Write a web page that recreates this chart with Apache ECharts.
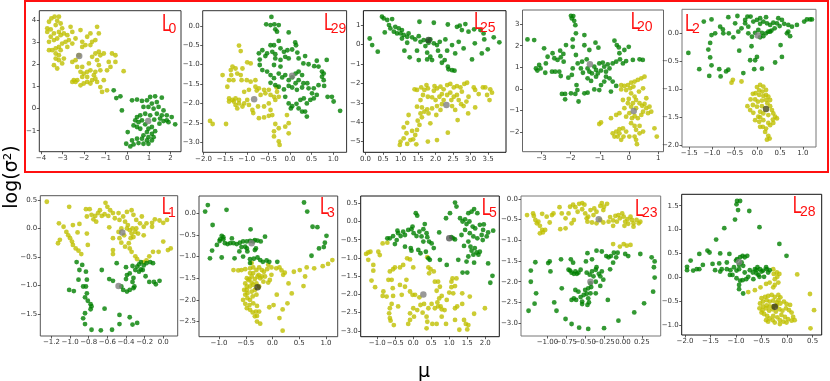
<!DOCTYPE html>
<html>
<head>
<meta charset="utf-8">
<script src="https://cdn.jsdelivr.net/npm/echarts@6/dist/echarts.min.js"></script>
<style>
  html, body { margin: 0; padding: 0; background: #fff; }
  #chart { width: 830px; height: 381px; }
</style>
</head>
<body>
<div id="chart"></div>
<script>
// ---- data (mu, log sigma^2) ----
var yellow_L0 = [[-3.52,4.09],[-3.37,4.17],[-3.17,4.17],[-3.25,3.98],[-3.63,3.94],[-3.71,3.64],[-3.71,3.48],[-3.55,3.59],[-3.32,3.79],[-3.09,3.86],[-3.02,3.64],[-3.17,3.48],[-3.40,3.41],[-3.55,3.26],[-3.63,3.03],[-3.40,3.11],[-3.25,3.18],[-3.09,3.33],[-2.94,3.41],[-2.78,3.33],[-2.63,3.71],[-2.55,3.48],[-2.71,3.11],[-2.86,3.03],[-3.02,2.95],[-3.17,2.80],[-3.32,2.73],[-3.48,2.65],[-3.63,2.65],[-3.32,2.50],[-3.17,2.42],[-3.32,2.27],[-3.17,2.20],[-3.40,1.97],[-3.25,1.82],[-3.02,2.05],[-2.94,2.27],[-3.09,2.65],[-2.78,2.80],[-2.55,2.95],[-2.40,3.18],[-2.17,3.56],[-2.09,3.03],[-1.86,3.26],[-1.71,3.41],[-1.63,3.03],[-1.40,3.71],[-1.32,3.41],[-1.48,3.11],[-1.71,2.88],[-1.94,2.88],[-2.09,2.80],[-2.25,2.42],[-2.40,2.20],[-2.55,2.12],[-2.32,1.89],[-2.09,1.89],[-2.17,1.67],[-2.02,1.59],[-1.86,1.67],[-1.71,1.74],[-1.78,2.05],[-1.63,2.35],[-1.48,2.50],[-1.32,2.58],[-1.25,2.42],[-1.09,2.50],[-1.40,2.20],[-1.32,1.97],[-1.25,1.74],[-1.48,1.67],[-1.55,1.52],[-1.63,1.29],[-1.86,1.21],[-2.02,1.14],[-2.17,1.06],[-2.32,1.29],[-2.48,1.29],[-2.55,1.21],[-2.40,1.21],[-2.09,1.44],[-1.86,1.44],[-1.40,1.21],[-1.25,0.98],[-1.17,0.76],[-0.94,0.83],[-1.09,1.29],[-0.94,1.74],[-0.78,1.89],[-0.86,2.12],[-0.71,2.50],[-0.55,2.42],[-0.55,2.12],[-0.17,1.70],[-1.48,1.36],[-1.71,1.14]];
var green_L0 = [[-0.63,0.83],[-0.51,0.48],[-0.32,0.56],[-0.25,-0.08],[0.22,0.38],[0.45,0.41],[0.68,0.35],[0.91,0.38],[1.06,0.53],[1.29,0.56],[1.60,0.50],[1.37,0.30],[1.14,0.23],[0.98,0.08],[1.22,0.00],[1.45,0.08],[1.68,-0.08],[1.37,-0.23],[1.60,-0.30],[1.83,-0.30],[2.06,-0.38],[2.22,-0.71],[1.91,-0.61],[1.68,-0.56],[1.49,-0.68],[1.25,-0.50],[1.06,-0.30],[0.83,-0.23],[0.60,-0.30],[0.45,-0.38],[0.37,-0.53],[0.52,-0.61],[0.68,-0.53],[0.29,-0.76],[0.45,-0.83],[0.60,-0.91],[0.83,-0.71],[0.98,-0.91],[1.14,-0.83],[1.29,-1.02],[1.14,-1.14],[0.98,-1.29],[0.75,-1.21],[0.68,-1.36],[0.91,-1.44],[1.14,-1.44],[1.22,-1.29],[0.98,-1.59],[0.75,-1.59],[0.52,-1.56],[0.29,-1.62],[0.14,-1.71],[-0.05,-1.59],[0.02,-1.06],[0.22,-1.44],[0.45,-1.36],[0.91,-1.06],[1.52,-0.45],[1.83,-0.53],[0.75,0.08]];

var green_L29 = [[-0.43,0.23],[-0.55,0.04],[-0.45,0.02],[-0.36,0.04],[-0.26,0.02],[-0.34,-0.09],[-0.30,-0.15],[-0.03,-0.17],[-0.45,-0.50],[-0.37,-0.50],[-0.26,-0.39],[0.12,-0.43],[0.14,-0.50],[-0.72,-0.71],[-0.64,-0.63],[-0.53,-0.71],[-0.41,-0.67],[-0.34,-0.73],[-0.22,-0.58],[-0.14,-0.67],[-0.06,-0.63],[0.05,-0.61],[0.17,-0.69],[-0.70,-0.87],[-0.57,-0.78],[-0.34,-0.84],[-0.22,-0.88],[-0.11,-0.80],[-0.03,-0.84],[0.20,-0.84],[0.35,-0.78],[0.31,-0.97],[0.43,-0.99],[0.56,-1.04],[0.62,-0.90],[0.85,-0.88],[-0.70,-1.01],[-0.64,-1.14],[-0.53,-1.18],[-0.45,-1.27],[-0.37,-1.35],[-0.26,-1.23],[-0.18,-1.33],[-0.11,-1.27],[-0.03,-1.40],[0.05,-1.33],[0.13,-1.23],[0.20,-1.18],[0.28,-1.27],[0.20,-1.40],[0.13,-1.48],[0.05,-1.59],[-0.03,-1.55],[0.16,-1.65],[0.28,-1.59],[-0.26,-1.57],[-0.34,-1.53],[-0.45,-1.47],[-0.14,-1.64],[-0.11,-1.83],[-0.03,-2.00],[0.05,-2.07],[0.15,-2.01],[0.24,-1.91],[0.32,-1.87],[0.39,-2.00],[0.47,-1.91],[0.55,-1.87],[0.62,-1.78],[0.51,-1.74],[0.43,-1.61],[0.55,-1.61],[0.66,-1.53],[0.74,-1.31],[0.78,-1.23],[0.78,-1.40],[0.79,-1.55],[0.87,-1.83],[0.97,-1.83],[1.01,-1.95],[1.16,-2.19],[0.35,-2.21],[0.39,-2.34],[0.20,-2.13],[0.28,-2.21],[0.02,-2.13],[0.66,-1.05],[0.74,-1.18],[-0.37,-1.01],[-0.22,-1.05],[0.31,-1.48],[0.40,-1.48]];
var yellow_L29 = [[-1.18,-0.51],[-1.14,-0.65],[-0.99,-0.94],[-0.91,-0.97],[-1.56,-1.27],[-1.37,-1.14],[-1.33,-1.05],[-1.26,-1.10],[-1.22,-1.23],[-1.14,-1.27],[-1.10,-1.10],[-1.36,-1.27],[-1.41,-1.40],[-1.31,-1.40],[-1.45,-1.57],[-1.00,-1.40],[-0.91,-1.44],[-0.80,-1.57],[-0.72,-1.61],[-0.60,-1.65],[-0.49,-1.65],[-0.80,-1.40],[-0.77,-1.67],[-0.68,-1.78],[-0.57,-1.74],[-0.45,-1.78],[-0.37,-1.83],[-0.30,-1.70],[-0.26,-1.83],[-0.34,-1.91],[-1.41,-1.87],[-1.33,-1.91],[-1.30,-1.95],[-1.41,-1.95],[-1.26,-2.04],[-1.18,-2.00],[-1.10,-2.08],[-1.22,-2.13],[-1.06,-2.00],[-0.99,-1.91],[-0.95,-2.04],[-0.87,-2.17],[-0.85,-2.25],[-0.74,-2.08],[-0.60,-2.08],[-0.49,-2.00],[-0.45,-2.17],[-0.72,-2.38],[-0.60,-2.36],[-0.49,-2.32],[-0.41,-2.30],[-0.34,-2.53],[-0.26,-2.64],[-0.37,-2.72],[-0.37,-2.85],[-0.26,-2.98],[-0.24,-3.07],[-0.07,-2.30],[-0.03,-2.51],[-0.03,-2.77],[-0.11,-2.60],[-1.85,-2.45],[-1.79,-2.53],[-1.48,-2.53],[-1.06,-1.70],[-0.95,-1.65],[-1.26,-1.87],[-1.18,-1.91],[-0.31,-1.59],[-1.12,-1.40]];

var green_L25 = [[0.47,1.43],[0.52,1.34],[0.62,1.26],[0.76,1.31],[0.67,1.00],[0.55,0.62],[0.71,0.83],[0.85,0.91],[0.95,0.83],[0.90,0.57],[1.00,0.57],[1.04,0.74],[1.09,0.49],[1.19,0.40],[1.23,0.57],[1.33,0.37],[1.42,0.26],[1.52,0.43],[1.57,0.14],[1.66,0.23],[1.77,0.19],[1.85,0.26],[1.80,0.09],[1.95,0.06],[1.54,1.17],[1.95,1.12],[2.35,1.03],[2.61,0.91],[2.69,0.97],[2.85,1.05],[2.75,0.74],[2.94,0.66],[3.10,0.78],[3.28,0.74],[3.37,0.57],[3.66,0.37],[3.82,0.11],[3.39,0.26],[3.12,0.06],[0.12,0.31],[0.19,-0.03],[0.35,-0.37],[1.11,-0.32],[1.26,-0.66],[1.47,-0.32],[1.52,-0.80],[1.76,-0.42],[1.76,-0.77],[1.85,-0.63],[1.90,-0.80],[2.14,-0.60],[2.18,-0.94],[2.26,-0.80],[2.35,-1.14],[2.37,-1.28],[2.47,-1.32],[2.54,-1.35],[2.12,0.14],[2.28,0.26],[2.33,-0.32],[2.47,-0.03],[2.56,-0.46],[2.66,0.14],[2.80,-0.20],[3.04,-0.77],[3.32,-0.46],[3.49,-0.25],[2.07,-0.32],[2.04,-0.03],[1.71,-0.08],[1.19,0.09],[0.81,0.66],[1.04,0.31]];
var yellow_L25 = [[1.40,-2.31],[1.47,-2.34],[1.59,-2.21],[1.68,-2.34],[1.78,-2.26],[1.95,-2.38],[2.04,-2.26],[2.14,-2.17],[2.23,-2.31],[2.33,-2.09],[2.42,-2.03],[2.52,-2.21],[2.61,-2.14],[2.71,-2.21],[2.82,-2.03],[2.90,-1.97],[2.75,-2.43],[2.61,-2.60],[2.52,-2.69],[2.42,-2.48],[2.33,-2.60],[2.18,-2.55],[2.11,-2.69],[2.00,-2.86],[1.90,-2.72],[1.78,-2.69],[1.64,-2.60],[1.57,-2.86],[2.66,-2.86],[2.73,-3.07],[2.80,-3.17],[2.88,-2.94],[2.94,-2.69],[3.09,-2.21],[3.13,-2.34],[3.35,-2.21],[3.42,-2.21],[3.56,-2.31],[3.61,-2.48],[3.47,-2.60],[3.54,-2.86],[3.23,-2.55],[3.13,-3.24],[2.93,-3.55],[2.63,-3.89],[2.35,-4.54],[1.47,-3.20],[1.61,-3.24],[1.76,-3.34],[1.90,-3.29],[2.04,-3.17],[2.18,-3.07],[2.47,-3.17],[2.56,-3.37],[1.57,-3.55],[1.68,-3.46],[1.80,-3.55],[1.61,-3.75],[1.49,-3.92],[1.54,-4.14],[1.47,-4.40],[1.42,-4.66],[1.36,-4.88],[1.45,-5.14],[1.28,-4.92],[1.19,-5.12],[1.09,-4.83],[1.00,-5.00],[0.98,-5.17],[1.17,-4.57],[1.23,-3.63],[1.19,-4.03],[1.09,-4.27],[1.33,-4.45],[1.78,-5.00],[2.04,-4.92],[1.85,-4.06],[2.02,-3.63],[2.14,-3.37],[2.23,-2.86],[2.45,-2.86],[1.97,-2.14],[1.74,-2.09]];

var green_L20 = [[-1.99,3.38],[-1.91,3.37],[-1.96,3.26],[-1.88,3.15],[-1.84,2.95],[-1.82,2.57],[-1.53,2.49],[-1.93,2.29],[-3.48,2.29],[-3.25,2.26],[-2.91,1.88],[-2.16,2.03],[-2.36,1.77],[-2.62,1.65],[-2.79,1.49],[-2.56,1.42],[-2.45,1.34],[-2.34,1.46],[-2.24,1.26],[-2.25,1.62],[-3.08,1.11],[-3.14,0.85],[-3.03,0.95],[-2.87,0.75],[-2.64,0.80],[-2.53,0.80],[-2.39,0.80],[-2.34,0.60],[-2.08,0.52],[-1.93,0.95],[-1.96,0.65],[-1.82,1.57],[-1.76,1.18],[-1.65,0.95],[-1.61,1.26],[-1.45,1.37],[-1.58,0.75],[-1.42,0.95],[-1.36,0.80],[-1.27,0.72],[-1.19,1.03],[-1.13,0.88],[-1.13,0.57],[-1.07,0.72],[-1.02,1.18],[-0.90,1.22],[-0.85,1.03],[-0.79,0.80],[-0.96,0.85],[-0.73,1.14],[-0.67,0.95],[-0.56,1.18],[-0.44,1.26],[-0.31,1.37],[-0.21,1.18],[-0.10,1.29],[0.13,1.34],[0.36,1.37],[0.47,1.34],[-0.33,1.65],[-0.16,1.80],[-0.01,1.95],[-0.50,2.23],[-0.42,2.03],[-0.35,1.92],[-1.15,2.14],[-1.05,1.91],[-1.53,2.02],[-1.36,1.80],[-1.93,1.95],[-1.42,0.49],[-1.30,0.37],[-1.19,-0.02],[-1.02,-0.05],[-0.96,0.18],[-0.85,0.34],[-1.80,0.18],[-1.77,-0.05],[-1.99,-0.20],[-1.84,-0.23],[-2.30,-0.23],[-2.19,-0.23],[-2.19,-0.48],[-1.73,-0.58],[-1.53,-0.20],[-1.42,-0.17],[-0.62,-0.12],[-0.44,0.14],[-0.56,0.34],[-0.67,0.49],[-0.79,0.57],[-3.19,0.95],[-2.85,1.18]];
var yellow_L20 = [[-0.27,0.18],[-0.16,0.14],[-0.04,0.18],[0.07,0.29],[0.19,0.34],[0.30,0.42],[0.42,0.49],[0.53,0.57],[-0.27,-0.02],[-0.10,-0.05],[0.04,0.03],[0.15,0.11],[0.07,-0.20],[0.19,-0.35],[0.24,-0.51],[0.13,-0.66],[0.07,-0.82],[0.24,-0.89],[0.36,-0.66],[0.45,-0.78],[0.53,-0.69],[0.59,-0.89],[0.70,-0.82],[0.76,-1.05],[0.65,-1.12],[0.48,-1.05],[0.42,-1.20],[0.30,-1.35],[0.19,-1.25],[0.10,-1.35],[0.01,-1.12],[-0.10,-1.28],[-0.16,-0.89],[-0.04,-0.66],[-0.21,-0.51],[-0.33,-1.12],[-0.44,-1.20],[-0.62,-1.35],[0.07,-1.58],[0.19,-1.71],[0.24,-1.89],[0.36,-1.71],[0.48,-1.97],[0.36,-2.05],[0.19,-2.20],[0.24,-2.35],[0.27,-2.55],[0.01,-2.20],[-0.10,-1.97],[-0.21,-1.82],[-0.33,-1.86],[-0.44,-1.97],[-0.56,-2.05],[-0.50,-2.20],[-0.33,-2.05],[-0.19,-2.20],[-0.27,-2.35],[-0.39,-2.20],[0.87,-1.82],[0.95,-2.20],[-1.02,-1.62],[-0.96,-1.55],[0.48,0.03],[0.34,-0.12],[-0.01,-0.46],[0.59,-0.43]];

var green_L2 = [[-1.52,-0.35],[-1.28,-0.64],[-1.18,0.21],[-1.01,0.25],[-1.06,-0.76],[-1.08,-0.29],[-1.04,-0.43],[-1.01,-0.57],[-1.04,-0.17],[-1.01,-0.03],[-0.93,0.00],[-0.82,0.12],[-0.76,0.07],[-0.75,0.00],[-0.81,-0.77],[-0.84,-0.64],[-0.69,-0.68],[-0.64,-0.65],[-0.64,0.29],[-0.44,0.31],[-0.63,0.00],[-0.53,-0.07],[-0.42,0.03],[-0.35,0.09],[-0.27,0.24],[-0.27,0.18],[-0.22,0.30],[-0.15,0.30],[-0.20,0.12],[-0.09,0.21],[-0.01,0.24],[0.06,0.17],[0.13,0.21],[0.21,0.18],[0.28,0.15],[0.35,0.19],[0.43,0.18],[0.46,0.27],[0.54,0.24],[0.59,0.17],[0.49,0.13],[0.38,0.09],[0.31,0.05],[0.24,0.03],[0.19,0.00],[0.10,0.01],[0.02,0.06],[-0.05,0.01],[-0.12,-0.06],[0.06,-0.07],[0.13,-0.05],[0.28,0.03],[0.68,0.15],[0.76,0.12],[0.87,0.15],[0.68,0.03],[0.72,-0.05],[0.65,0.00],[1.03,0.21],[1.09,0.25],[1.16,0.25],[1.20,0.25],[0.51,-0.21],[0.54,-0.42],[0.39,-0.52],[-0.13,-0.23],[-0.16,-0.48],[-0.05,-0.48],[-0.01,-0.42],[-0.07,-0.64],[0.10,-0.63],[-0.31,-0.71],[-0.40,-0.31],[-0.49,0.18],[0.06,0.27],[0.19,0.29],[-0.20,0.00]];
var yellow_L2 = [[-0.54,-0.83],[-0.57,-0.88],[-0.35,-0.86],[-0.01,-0.96],[0.06,-0.92],[0.13,-0.95],[0.04,-1.02],[0.11,-1.04],[0.19,-1.01],[0.04,-1.10],[0.13,-1.12],[0.19,-1.10],[-0.05,-1.18],[-0.15,-1.18],[0.01,-1.22],[0.10,-1.20],[0.19,-1.19],[-0.22,-1.30],[-0.10,-1.28],[-0.01,-1.31],[0.10,-1.30],[0.22,-1.25],[0.28,-1.30],[0.32,-1.37],[0.35,-1.43],[0.39,-1.49],[0.34,-1.54],[0.24,-1.46],[0.13,-1.43],[0.06,-1.40],[0.02,-1.49],[0.04,-1.58],[0.13,-1.55],[0.24,-1.60],[0.28,-1.64],[0.19,-1.70],[0.12,-1.67],[0.06,-1.67],[0.17,-1.76],[0.24,-1.83],[0.21,-1.90],[0.27,-1.88],[0.06,-1.50],[-0.09,-1.42],[-0.05,-1.55],[-0.16,-1.37],[0.28,-1.19],[0.24,-1.13],[-0.04,-1.07],[-0.10,-1.08],[0.43,-1.52],[0.35,-1.60]];

var yellow_L1 = [[-1.25,0.47],[-1.01,0.38],[-1.12,0.09],[-1.07,0.03],[-1.04,-0.06],[-1.02,-0.12],[-1.00,-0.17],[-0.98,-0.23],[-0.97,-0.29],[-0.94,-0.35],[-0.91,-0.39],[-0.88,-0.45],[-1.11,-0.20],[-1.13,-0.26],[-0.92,-0.07],[-0.97,0.06],[-0.90,0.08],[-0.83,0.34],[-0.82,0.21],[-0.77,0.24],[-0.79,0.34],[-0.75,0.16],[-0.72,0.12],[-0.81,-0.29],[-0.73,0.22],[-0.70,0.27],[-0.66,0.22],[-0.63,0.25],[-0.62,0.45],[-0.60,0.38],[-0.57,0.32],[-0.59,0.22],[-0.54,0.27],[-0.52,0.18],[-0.48,0.27],[-0.58,0.02],[-0.54,-0.17],[-0.54,-0.38],[-0.54,-0.45],[-0.47,0.15],[-0.43,0.21],[-0.41,0.12],[-0.39,0.00],[-0.38,0.06],[-0.36,-0.03],[-0.34,-0.09],[-0.32,-0.15],[-0.30,-0.06],[-0.29,0.00],[-0.27,-0.09],[-0.25,0.09],[-0.21,0.03],[-0.18,0.09],[-0.35,-0.17],[-0.37,-0.26],[-0.36,-0.35],[-0.34,-0.41],[-0.30,-0.49],[-0.28,-0.54],[-0.47,-0.17],[-0.45,-0.25],[-0.41,-0.32],[-0.42,-0.12],[-0.48,-0.06],[-0.45,0.00],[-0.33,0.00],[-0.23,0.21],[-0.12,0.10],[-0.09,0.16],[-0.04,0.14],[0.00,0.10],[0.04,0.15],[0.00,-0.23],[0.05,-0.38],[0.08,-0.35],[-0.05,-0.41],[-0.11,-0.41],[-0.15,-0.49],[-0.18,-0.56],[-0.21,-0.59],[-0.12,0.03],[-0.21,-0.12],[-0.29,0.15],[-0.32,0.24],[-0.34,0.32],[-0.39,0.29],[-0.68,0.32],[-0.82,-0.09]];
var green_L1 = [[-0.93,-0.59],[-0.87,-0.64],[-0.90,-0.73],[-0.83,-0.76],[-0.91,-0.90],[-0.82,-0.90],[-1.01,-1.08],[-0.96,-1.10],[-0.86,-1.02],[-0.83,-1.02],[-0.82,-1.14],[-0.84,-1.21],[-0.81,-1.27],[-0.78,-1.33],[-0.77,-1.37],[-0.78,-1.42],[-0.84,-1.49],[-0.86,-1.58],[-0.84,-1.68],[-0.77,-1.78],[-0.67,-1.79],[-0.55,-1.78],[-0.47,-1.68],[-0.33,-1.69],[-0.28,-1.66],[-0.36,-1.56],[-0.47,-1.52],[-0.63,-1.41],[-0.66,-0.73],[-0.58,-0.89],[-0.54,-0.92],[-0.50,-0.61],[-0.45,-1.02],[-0.43,-1.08],[-0.39,-1.11],[-0.36,-1.08],[-0.32,-1.05],[-0.31,-1.02],[-0.33,-0.94],[-0.40,-0.89],[-0.39,-0.82],[-0.36,-0.79],[-0.40,-0.68],[-0.33,-0.66],[-0.30,-0.73],[-0.28,-0.67],[-0.26,-0.63],[-0.24,-0.59],[-0.21,-0.65],[-0.24,-0.72],[-0.26,-0.76],[-0.22,-0.73],[-0.18,-0.61],[-0.14,-0.59],[-0.11,-0.61],[-0.19,-0.84],[-0.15,-0.94],[-0.10,-0.94],[-0.08,-0.98],[-0.04,-0.92],[-0.32,-0.87]];

var green_L3 = [[-1.26,0.04],[-1.21,0.19],[-0.86,0.08],[-1.12,-0.27],[-1.17,-1.04],[-1.13,-0.86],[-1.04,-0.73],[-0.99,-0.64],[-0.95,-0.52],[-0.92,-0.60],[-0.89,-0.69],[-0.84,-0.71],[-0.79,-0.69],[-0.76,-0.58],[-0.73,-0.69],[-0.67,-0.71],[-0.61,-0.68],[-0.55,-0.65],[-0.48,-0.65],[-0.42,-0.64],[-0.36,-0.65],[-0.33,-0.62],[-0.28,-0.63],[-0.22,-0.65],[-0.41,-0.37],[-0.14,-0.54],[-0.95,-1.02],[-0.71,-1.04],[-0.62,-0.88],[-0.55,-1.00],[-0.47,-0.88],[-0.42,-1.06],[-0.42,-1.15],[-0.35,-1.05],[-0.33,-0.85],[-0.31,-0.81],[-0.28,-1.02],[-0.23,-1.08],[-0.18,-1.12],[-0.11,-1.09],[-0.06,-1.12],[0.09,-1.12],[-0.58,-0.78],[-0.51,-0.77],[0.59,0.25],[0.65,0.04],[0.75,-0.31],[0.84,-0.32],[1.01,-0.52],[0.98,-0.68],[0.96,-0.78],[0.87,-0.81],[0.73,-0.98],[-0.92,-0.55],[-0.98,-0.60],[-0.48,-0.81]];
var yellow_L3 = [[-0.73,-1.31],[-0.64,-1.32],[-0.58,-1.31],[-0.51,-1.29],[-0.42,-1.27],[-0.36,-1.25],[-0.30,-1.31],[-0.25,-1.25],[-0.20,-1.31],[-0.16,-1.35],[-0.10,-1.29],[-0.08,-1.19],[-0.02,-1.25],[0.07,-1.27],[0.13,-1.25],[0.17,-1.32],[0.20,-1.42],[0.23,-1.37],[-0.05,-1.54],[-0.08,-1.60],[-0.17,-1.58],[-0.23,-1.50],[-0.28,-1.46],[-0.33,-1.52],[-0.39,-1.46],[-0.43,-1.52],[-0.48,-1.50],[-0.51,-1.62],[-0.48,-1.69],[-0.42,-1.69],[-0.36,-1.65],[-0.30,-1.62],[-0.25,-1.69],[-0.33,-1.77],[-0.39,-1.81],[-0.47,-1.85],[-0.51,-1.88],[-0.47,-1.96],[-0.42,-2.00],[-0.37,-1.92],[-0.30,-1.88],[-0.36,-2.08],[-0.43,-2.12],[-0.48,-2.19],[-0.42,-2.23],[-0.37,-2.29],[-0.31,-2.27],[-0.25,-2.27],[-0.29,-2.14],[-0.33,-2.38],[-0.29,-2.50],[-0.23,-2.55],[-0.29,-2.37],[-0.53,-1.77],[-0.55,-2.00],[-0.51,-2.09],[-0.26,-1.42],[-0.20,-1.46],[-0.14,-1.46],[-0.36,-1.38],[-0.42,-1.38],[0.08,-1.88],[0.02,-2.12],[-0.06,-2.17],[0.13,-2.42],[0.19,-2.71],[0.19,-2.22],[0.28,-2.08],[0.30,-1.62],[0.36,-1.85],[0.40,-1.35],[0.51,-1.31],[0.58,-1.68],[0.61,-1.46],[0.64,-1.25],[0.78,-1.27],[0.94,-1.22],[1.04,-1.17],[1.12,-1.08],[-0.02,-1.42],[-0.39,-1.15],[-0.45,-1.54],[-0.39,-1.60],[-0.48,-1.77]];

var green_L5 = [[1.16,0.52],[1.20,0.41],[1.02,0.23],[0.91,0.09],[0.07,0.23],[0.11,0.16],[1.53,0.23],[1.62,0.27],[1.69,0.34],[1.78,0.23],[1.30,0.09],[1.37,0.00],[1.44,0.06],[1.48,-0.07],[1.56,0.00],[1.65,-0.14],[1.72,-0.19],[1.85,-0.09],[1.96,-0.08],[1.94,-0.23],[2.08,-0.30],[2.22,-0.25],[2.04,-0.41],[1.90,-0.37],[1.78,-0.46],[1.67,-0.41],[1.57,-0.32],[1.44,-0.23],[1.34,-0.37],[1.41,-0.67],[1.53,-0.55],[1.59,-0.69],[1.62,-0.80],[1.71,-0.73],[1.76,-0.85],[1.85,-0.83],[1.67,-0.91],[1.53,-0.96],[1.48,-1.10],[1.69,-1.13],[1.81,-0.91],[2.08,-1.15],[2.20,-1.49],[2.14,-1.68],[1.37,-1.40],[1.50,-1.40],[1.25,-1.05],[1.11,-0.46],[1.16,-0.49],[1.06,-0.43],[0.72,-0.30],[-0.56,-0.40],[-0.46,-0.51],[-0.51,-0.62],[-0.35,-0.40],[-0.42,-0.32],[-0.28,-0.28],[-0.23,-0.37],[-0.14,-0.23],[-0.05,-0.21],[0.01,-0.32],[0.09,-0.40],[0.17,-0.28],[0.23,-0.41],[0.28,-0.21],[0.32,-0.07],[0.37,-0.32],[0.39,-0.43],[0.28,-0.55],[0.44,-0.55],[0.51,-0.60],[0.57,-0.73],[0.35,-0.83],[0.20,-0.87],[0.14,-0.78],[-0.07,-0.73],[-0.05,-0.80],[0.42,-1.01],[0.46,-1.05],[0.74,-1.05],[0.93,-1.19],[-0.23,-0.69],[-0.72,-0.46],[-0.65,-0.46],[-0.44,-0.25],[-0.02,-0.14],[1.93,-0.51]];
var yellow_L5 = [[-1.31,-0.89],[-1.25,-0.85],[-1.19,-0.83],[-0.97,-0.83],[-0.93,-0.92],[-0.85,-0.60],[-0.72,-0.58],[-1.25,-1.05],[-1.11,-1.19],[-1.11,-1.35],[-1.16,-1.62],[-1.06,-1.80],[-0.83,-1.92],[-0.85,-2.04],[-0.74,-2.06],[-0.69,-1.60],[-0.65,-1.37],[-0.56,-1.31],[-0.60,-1.60],[-0.57,-1.83],[-0.56,-2.04],[-0.60,-2.26],[-0.65,-2.38],[-0.67,-2.52],[-0.65,-2.65],[-0.63,-2.72],[-0.54,-2.84],[-0.42,-2.33],[-0.51,-1.26],[-0.37,-1.26],[-0.28,-1.19],[-0.17,-1.01],[-0.09,-1.04],[0.00,-1.26],[-0.19,-1.60],[-0.09,-1.92],[-0.02,-2.01],[0.05,-2.01],[0.00,-2.38],[-0.09,-2.52],[-0.09,-2.70],[-0.14,-2.81],[0.02,-2.61],[0.11,-2.43],[0.20,-2.29],[0.30,-2.26],[0.39,-0.98],[0.42,-1.26],[0.48,-1.31],[0.44,-1.42],[0.57,-1.37],[0.60,-1.65],[0.69,-1.65],[0.74,-1.79],[0.65,-1.90],[0.79,-2.04],[0.72,-2.11],[0.67,-2.22],[0.69,-2.33],[0.76,-2.33],[0.79,-2.41],[0.60,-2.38],[0.51,-2.26],[0.42,-2.38],[0.37,-2.61],[0.39,-2.75],[0.53,-2.81],[0.65,-2.81],[0.91,-2.81],[0.79,-2.61],[0.87,-2.43],[0.93,-2.15],[1.00,-1.95],[1.11,-1.97],[1.06,-1.80],[1.16,-1.77],[1.20,-1.56],[1.09,-1.56],[1.06,-1.65],[1.16,-2.38],[1.22,-2.33],[1.28,-2.97],[1.16,-2.70],[1.41,-2.70],[1.46,-2.81],[1.50,-2.96],[1.53,-2.84],[1.36,-1.97],[1.69,-2.53],[1.99,-2.38],[1.57,-2.06],[1.36,-2.26],[0.26,-2.50],[0.37,-2.93],[-0.37,-1.74],[-0.32,-2.01],[-0.23,-1.79],[0.17,-2.08]];

var yellow_L23 = [[-1.27,-0.39],[-1.19,-0.35],[-1.18,-0.41],[-1.16,-0.51],[-1.14,-0.59],[-1.12,-0.55],[-1.10,-0.65],[-1.07,-0.75],[-1.10,-0.83],[-1.06,-0.81],[-1.03,-0.75],[-0.97,-0.57],[-1.01,-0.43],[-0.94,-0.39],[-1.07,-0.36],[-0.83,-0.73],[-0.84,-0.20],[-0.76,-0.47],[-0.72,-0.35],[-0.70,-0.19],[-0.66,-0.14],[-0.63,-0.20],[-0.60,-0.31],[-0.58,-0.12],[-0.54,-0.10],[-0.51,-0.14],[-0.54,-0.25],[-0.50,-0.35],[-0.46,-0.43],[-0.47,-0.55],[-0.65,-0.51],[-0.68,-0.59],[-0.76,-0.71],[-0.43,-0.27],[-0.38,-0.23],[-0.35,-0.31],[-0.30,-0.17],[-0.28,-0.10],[-0.25,-0.19],[-0.21,-0.12],[-0.26,-0.27],[-0.41,-0.57],[-0.35,-0.59],[-0.30,-0.51],[-0.26,-0.57],[-0.19,-0.55],[-0.17,-0.44],[-0.13,-0.52],[-0.10,-0.41],[-0.08,-0.55],[-0.06,-0.39],[-0.04,-0.47],[-0.01,-0.35],[0.01,-0.43],[0.03,-0.55],[0.06,-0.49],[0.07,-0.60],[0.10,-0.43],[0.12,-0.51],[0.14,-0.59],[0.18,-0.51],[0.21,-0.59],[0.23,-0.55],[0.02,-0.65],[0.14,-0.67],[-0.13,-0.65],[-0.39,-0.39],[-0.13,-1.09],[0.01,-1.09],[0.05,-1.13],[0.10,-1.11],[-0.04,-1.15],[-0.48,-0.47],[-0.81,-0.35],[-0.92,-0.35]];
var green_L23 = [[-1.25,-2.70],[-1.17,-2.53],[-1.15,-2.28],[-1.22,-2.00],[-1.22,-1.73],[-1.16,-1.53],[-0.99,-1.55],[-0.97,-1.51],[-0.96,-1.75],[-0.82,-1.46],[-0.81,-2.16],[-0.91,-2.50],[-0.88,-2.70],[-0.76,-2.90],[-0.68,-3.02],[-0.58,-3.11],[-0.46,-3.14],[-0.25,-3.12],[-0.06,-2.94],[0.15,-2.74],[0.28,-2.52],[0.40,-2.24],[0.42,-1.90],[0.41,-1.65],[0.42,-1.51],[0.38,-1.41],[0.23,-1.33],[0.07,-1.38],[0.03,-1.33],[-0.07,-1.30],[-0.09,-1.41],[-0.13,-1.54],[-0.17,-1.70],[-0.12,-1.30],[-0.16,-1.38],[-0.19,-1.41],[-0.22,-1.38],[-0.28,-1.27],[-0.35,-1.25],[-0.41,-1.46],[-0.47,-1.31],[-0.49,-1.51],[-0.69,-1.46],[-0.66,-1.54],[-0.72,-1.71],[-0.70,-1.73],[-0.68,-1.78],[-0.65,-1.81],[-0.63,-1.75],[-0.61,-1.81],[-0.59,-1.78],[-0.56,-1.71],[-0.48,-1.78],[-0.44,-1.83],[-0.41,-1.75],[-0.39,-1.87],[-0.36,-1.71],[-0.35,-1.65],[-0.32,-1.81],[-0.30,-1.87],[-0.28,-1.75],[-0.26,-1.95],[-0.30,-2.10],[-0.36,-2.00],[-0.43,-2.04],[-0.46,-2.16],[-0.43,-2.28],[-0.48,-2.29],[-0.52,-2.32],[-0.46,-2.40],[-0.45,-2.50],[-0.47,-2.56],[-0.54,-2.48],[-0.56,-2.37],[-0.65,-2.40],[-0.68,-2.44],[-0.62,-2.44],[-0.59,-2.24],[-0.63,-2.20],[-0.50,-2.20],[-0.36,-2.28],[-0.42,-2.13],[-0.54,-2.54],[-0.20,-2.44]];

var green_L28 = [[-0.98,1.60],[-0.92,1.60],[-0.99,1.53],[-0.96,1.41],[-0.74,1.39],[-1.02,1.21],[-1.23,1.03],[-0.54,1.05],[-1.39,0.79],[-0.15,0.70],[-0.01,0.45],[-1.89,0.35],[-1.96,0.22],[-1.96,0.15],[-1.84,0.14],[-1.77,0.17],[-1.72,0.17],[-1.65,0.26],[-1.72,0.49],[-1.56,0.56],[-1.52,0.52],[-1.31,0.50],[-1.46,0.28],[-1.33,0.29],[-1.41,0.15],[-1.31,0.12],[-1.28,0.17],[-1.18,0.31],[-1.13,0.49],[-1.18,0.17],[-1.11,0.15],[-1.12,0.05],[-1.07,0.05],[-1.04,0.21],[-0.99,0.14],[-0.94,0.17],[-1.00,0.35],[-0.98,0.38],[-0.92,0.42],[-0.87,0.45],[-0.83,0.42],[-0.78,0.45],[-0.89,0.31],[-0.94,0.26],[-0.99,-0.02],[-0.92,-0.07],[-0.87,-0.06],[-0.94,-0.16],[-0.94,-0.25],[-0.86,-0.34],[-0.83,0.10],[-0.80,-0.04],[-0.76,0.01],[-0.67,0.10],[-0.66,-0.04],[-0.60,0.15],[-0.56,0.05],[-0.53,0.17],[-0.47,0.14],[-0.45,0.01],[-0.40,0.17],[-0.41,0.21],[-0.37,0.10],[-0.34,0.15],[-0.54,0.01],[-0.50,0.12],[-0.60,0.08],[-0.63,0.17],[-0.58,0.21],[-0.86,0.24],[-0.73,0.15]];
var yellow_L28 = [[-0.76,-0.31],[-0.63,-0.27],[-0.52,-0.21],[-0.41,-0.14],[-0.34,-0.11],[-0.27,-0.21],[-0.24,-0.16],[-0.17,-0.11],[-0.24,-0.04],[-0.19,0.01],[-0.26,0.07],[-0.27,0.17],[-0.20,0.10],[-0.15,0.07],[0.20,0.06],[0.45,-0.35],[0.53,-0.69],[0.46,-1.07],[-0.50,-0.44],[-0.43,-0.41],[-0.37,-0.39],[-0.30,-0.37],[-0.24,-0.41],[-0.17,-0.37],[-0.13,-0.42],[-0.53,-0.55],[-0.47,-0.51],[-0.40,-0.48],[-0.34,-0.51],[-0.27,-0.49],[-0.20,-0.53],[-0.13,-0.55],[-0.06,-0.51],[-0.01,-0.56],[0.06,-0.58],[-0.54,-0.65],[-0.48,-0.69],[-0.41,-0.65],[-0.35,-0.70],[-0.28,-0.67],[-0.22,-0.72],[-0.15,-0.67],[-0.09,-0.70],[-0.02,-0.65],[0.04,-0.69],[0.09,-0.74],[0.12,-0.83],[0.15,-0.90],[0.09,-0.91],[0.02,-0.88],[-0.04,-0.83],[-0.11,-0.79],[-0.19,-0.84],[-0.27,-0.81],[-0.34,-0.86],[-0.39,-0.81],[-0.45,-0.77],[-0.50,-0.74],[-0.41,-0.90],[-0.37,-0.93],[-0.28,-0.90],[-0.24,-0.95],[-0.14,-0.90],[-0.07,-0.93],[-0.01,-0.95],[-0.14,-0.98],[-0.20,-0.59],[-0.27,-0.61],[-0.34,-0.61],[-0.40,-0.59],[-0.47,-0.61],[-0.17,-0.48]];

// cluster centres  [green, yellow]
var centres_L0 = [[0.97,-0.56],[-2.23,2.39]];
var centres_L29 = [[0.05,-1.29],[-0.83,-1.89]];
var centres_L25 = [[1.80,0.23],[2.31,-3.12]];
var centres_L20 = [[-1.34,1.14],[0.16,-1.02]];
var centres_L2 = [[0.01,-0.04],[0.19,-1.35]];
var centres_L1 = [[-0.48,-1.01],[-0.44,-0.07]];
var centres_L3 = [[-0.39,-0.69],[-0.28,-1.71]];
var centres_L5 = [[1.00,-0.46],[0.28,-2.00]];
var centres_L23 = [[-0.43,-2.00],[-0.32,-0.49]];
var centres_L28 = [[-0.94,0.32],[-0.24,-0.62]];

// tick labels
var ticks_L0x = [-4,-3,-2,-1,0,1,2];
var ticks_L0y = [-1,0,1,2,3,4];
var ticks_L29x = [-2,-1.5,-1,-0.5,0,0.5,1];
var ticks_L29y = [-3,-2.5,-2,-1.5,-1,-0.5,0];
var ticks_L25x = [0,0.5,1,1.5,2,2.5,3,3.5];
var ticks_L25y = [-5,-4,-3,-2,-1,0,1];
var ticks_L20x = [-3,-2,-1,0,1];
var ticks_L20y = [-2,-1,0,1,2,3];
var ticks_L2x = [-1.5,-1,-0.5,0,0.5,1];
var ticks_L2y = [-2,-1.5,-1,-0.5,0];
var ticks_L1x = [-1.2,-1,-0.8,-0.6,-0.4,-0.2,0];
var ticks_L1y = [-1.5,-1,-0.5,0,0.5];
var ticks_L3x = [-1,-0.5,0,0.5,1];
var ticks_L3y = [-2.5,-2,-1.5,-1,-0.5,0];
var ticks_L5x = [-1,-0.5,0,0.5,1,1.5,2];
var ticks_L5y = [-3,-2.5,-2,-1.5,-1,-0.5,0,0.5];
var ticks_L23x = [-1.25,-1,-0.75,-0.5,-0.25,0,0.25];
var ticks_L23y = [-3,-2.5,-2,-1.5,-1,-0.5,0];
var ticks_L28x = [-2,-1.5,-1,-0.5,0,0.5];
var ticks_L28y = [-1,-0.5,0,0.5,1,1.5];

// ---- layout: pixel boxes, axis ranges, styles ----
var panels = [
  { n: '0',  box: [39.3, 10.7, 141.7, 141], xr: [-4.08, 2.49], yr: [-1.95, 4.44], xt: ticks_L0x, yt: ticks_L0y, xd: 0, yd: 0, g: green_L0, y: yellow_L0, c: centres_L0, cc: ['#808080', '#808080'], border: '#333', lab: [162, 23.5, 168.5, 28] },
  { n: '29', box: [202.7, 10.7, 143.9, 141.6], xr: [-2.02, 1.31], yr: [-3.26, 0.39], xt: ticks_L29x, yt: ticks_L29y, xd: 1, yd: 1, g: green_L29, y: yellow_L29, c: centres_L29, cc: ['#808080', '#808080'], border: '#333', lab: [324, 22.5, 330.7, 28.3] },
  { n: '25', box: [363.4, 10.7, 142.6, 141.6], xr: [-0.06, 4.01], yr: [-5.55, 1.74], xt: ticks_L25x, yt: ticks_L25y, xd: 1, yd: 0, g: green_L25, y: yellow_L25, c: centres_L25, cc: ['#2f4a2f', '#808080'], border: '#111', lab: [474, 21, 480, 27.2] },
  { n: '20', box: [522.5, 10, 141, 141.7], xr: [-3.65, 1.18], yr: [-2.9, 3.65], xt: ticks_L20x, yt: ticks_L20y, xd: 0, yd: 0, g: green_L20, y: yellow_L20, c: centres_L20, cc: ['#808080', '#808080'], border: '#666', lab: [630.7, 21.5, 637, 26.2] },
  { n: '2',  box: [682, 9.3, 134, 137.7], xr: [-1.66, 1.29], yr: [-2.03, 0.43], xt: ticks_L2x, yt: ticks_L2y, xd: 1, yd: 1, g: green_L2, y: yellow_L2, c: centres_L2, cc: ['#808080', '#4a4a1c'], border: '#777', lab: [685, 23.5, 692, 28.3] },
  { n: '1',  box: [40.3, 195.7, 137.4, 140.3], xr: [-1.32, 0.155], yr: [-1.89, 0.576], xt: ticks_L1x, yt: ticks_L1y, xd: 1, yd: 1, g: green_L1, y: yellow_L1, c: centres_L1, cc: ['#808080', '#808080'], border: '#555', lab: [161.7, 206.3, 168, 212.3] },
  { n: '3',  box: [199, 196, 138.7, 140.7], xr: [-1.375, 1.22], yr: [-2.85, 0.4], xt: ticks_L3x, yt: ticks_L3y, xd: 1, yd: 1, g: green_L3, y: yellow_L3, c: centres_L3, cc: ['#808080', '#3e3e1a'], border: '#444', lab: [320, 206.7, 327, 212.8] },
  { n: '5',  box: [360.7, 196, 138.6, 140.7], xr: [-1.46, 2.39], yr: [-3.16, 0.7], xt: ticks_L5x, yt: ticks_L5y, xd: 1, yd: 1, g: green_L5, y: yellow_L5, c: centres_L5, cc: ['#555', '#808080'], border: '#111', lab: [481.7, 207.5, 489, 212.3] },
  { n: '23', box: [521, 196, 139.7, 140], xr: [-1.35, 0.5], yr: [-3.31, 0.07], xt: ticks_L23x, yt: ticks_L23y, xd: 2, yd: 1, g: green_L23, y: yellow_L23, c: centres_L23, cc: ['#808080', '#808080'], border: '#777', lab: [635, 208.3, 642, 212.8] },
  { n: '28', box: [681.7, 194.3, 140, 140.7], xr: [-2.065, 0.68], yr: [-1.21, 1.74], xt: ticks_L28x, yt: ticks_L28y, xd: 1, yd: 1, g: green_L28, y: yellow_L28, c: centres_L28, cc: ['#808080', '#3c3c1e'], border: '#111', lab: [792.7, 205, 800, 211.3] }
];

var GREEN = '#008000';
var YELLOW = '#bfbf00';
var RED = '#ff1010';

function fmt(d) {
  return function (v) {
    var s = Math.abs(v).toFixed(d);
    return (v < -1e-9 ? '\u2212' : '') + s;
  };
}

function makeAxis(i, range, ticks, dec) {
  return {
    gridIndex: i,
    type: 'value',
    min: range[0],
    max: range[1],
    axisLine: { show: false, onZero: false },
    splitLine: { show: false },
    axisTick: { show: true, length: 2.5, customValues: ticks, lineStyle: { color: '#333', width: 0.8 } },
    axisLabel: { customValues: ticks, fontSize: 7, margin: 3, color: '#333', fontFamily: 'DejaVu Sans', formatter: fmt(dec) }
  };
}

var grids = [], xAxes = [], yAxes = [], series = [], graphics = [];

panels.forEach(function (p, i) {
  grids.push({ left: p.box[0], top: p.box[1], width: p.box[2], height: p.box[3], show: true, borderColor: p.border, borderWidth: 1, backgroundColor: 'transparent' });
  xAxes.push(makeAxis(i, p.xr, p.xt, p.xd));
  yAxes.push(makeAxis(i, p.yr, p.yt, p.yd));
  series.push({ type: 'scatter', xAxisIndex: i, yAxisIndex: i, data: p.y, symbolSize: 4.8, itemStyle: { color: YELLOW }, silent: true, z: 2 });
  series.push({ type: 'scatter', xAxisIndex: i, yAxisIndex: i, data: p.g, symbolSize: 4.8, itemStyle: { color: GREEN }, silent: true, z: 3 });
  series.push({ type: 'scatter', xAxisIndex: i, yAxisIndex: i, data: [p.c[0]], symbolSize: 6.5, itemStyle: { color: p.cc[0] }, silent: true, z: 4 });
  series.push({ type: 'scatter', xAxisIndex: i, yAxisIndex: i, data: [p.c[1]], symbolSize: 6.5, itemStyle: { color: p.cc[1] }, silent: true, z: 4 });

  // red L with subscript layer number
  graphics.push({ type: 'text', x: p.lab[0], y: p.lab[1] + 1.3, scaleX: 0.72, z: 10,
    style: { text: 'L', fill: RED, font: '23px "Liberation Sans", Arial, sans-serif', textAlign: 'left', textVerticalAlign: 'middle' } });
  graphics.push({ type: 'text', x: p.lab[2], y: p.lab[3] + 0.8, z: 10,
    style: { text: p.n, fill: RED, font: '14px "Liberation Sans", Arial, sans-serif', textAlign: 'left', textVerticalAlign: 'middle' } });
});

// red frame round the top row
graphics.push({ type: 'rect', shape: { x: 25, y: 1, width: 803, height: 171 }, z: 9,
  style: { fill: 'none', stroke: RED, lineWidth: 2 } });
// axis titles
graphics.push({ type: 'text', x: 12, y: 177, rotation: Math.PI / 2, z: 10,
  style: { text: 'log(\u03c3\u00b2)', fill: '#000', font: '19px "DejaVu Sans", sans-serif', textAlign: 'center', textVerticalAlign: 'middle' } });
graphics.push({ type: 'text', x: 424, y: 372, z: 10,
  style: { text: '\u03bc', fill: '#000', font: '19px "DejaVu Sans", sans-serif', textAlign: 'center', textVerticalAlign: 'middle' } });

var chart = echarts.init(document.getElementById('chart'), null, { renderer: 'canvas' });
chart.setOption({
  animation: false,
  backgroundColor: '#fff',
  grid: grids,
  xAxis: xAxes,
  yAxis: yAxes,
  series: series,
  graphic: graphics
});
</script>
</body>
</html>
